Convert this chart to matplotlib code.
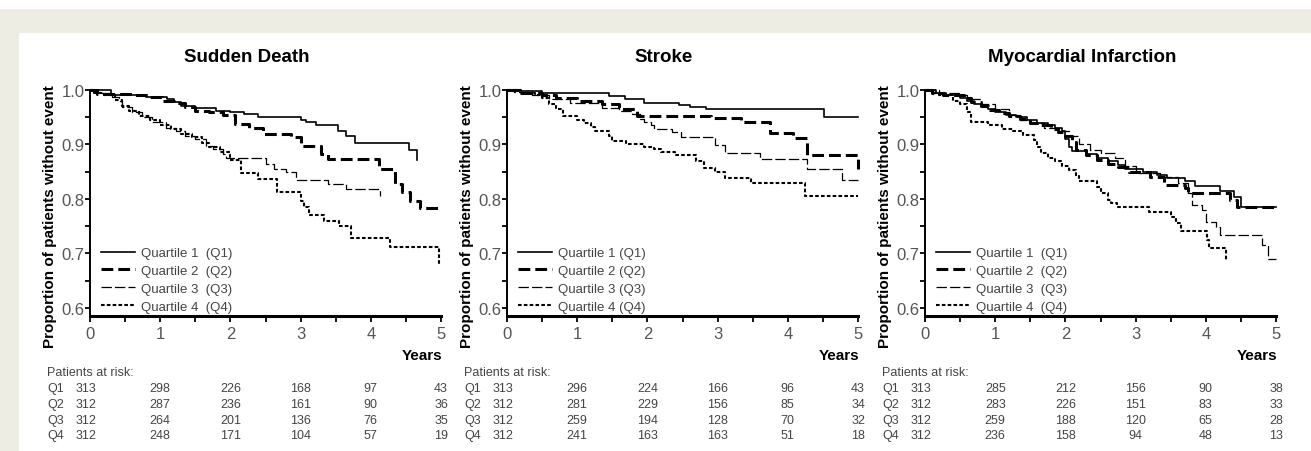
import matplotlib
matplotlib.use("Agg")
import matplotlib.pyplot as plt
from matplotlib.patches import Rectangle
from matplotlib.lines import Line2D
from matplotlib.transforms import blended_transform_factory

plt.rcParams['font.family'] = ['Liberation Sans', 'DejaVu Sans']
plt.rcParams['lines.scale_dashes'] = False

W, H = 1311, 452

# ---- data (step times in years, survival proportion) ----
titles = ["Sudden Death", "Stroke", "Myocardial Infarction"]
quartile_labels = ["Quartile 1  (Q1)", "Quartile 2  (Q2)", "Quartile 3  (Q3)", "Quartile 4  (Q4)"]
quartile_labels_stroke = ["Quartile 1 (Q1)", "Quartile 2 (Q2)", "Quartile 3 (Q3)", "Quartile 4 (Q4)"]
risk_rows = ["Q1", "Q2", "Q3", "Q4"]
risk_times = [0, 1, 2, 3, 4, 5]

# Sudden death
sd_q1_t = [0, 0.3, 0.8, 1.1, 1.2, 1.3, 1.5, 1.8, 2.0, 2.2, 2.4, 3.0, 3.08, 3.22, 3.53, 3.65, 3.77, 4.54, 4.66]
sd_q1_s = [1.0, 0.990, 0.987, 0.983, 0.978, 0.971, 0.967, 0.962, 0.959, 0.956, 0.950, 0.944, 0.941, 0.935, 0.925, 0.916, 0.902, 0.889, 0.872]
sd_q2_t = [0, 0.1, 0.6, 0.85, 1.03, 1.2, 1.35, 1.5, 1.7, 1.9, 2.06, 2.27, 2.46, 2.87, 3.0, 3.29, 3.39, 4.11, 4.34, 4.44, 4.56, 4.70]
sd_q2_s = [1.0, 0.993, 0.990, 0.987, 0.980, 0.977, 0.968, 0.962, 0.959, 0.955, 0.938, 0.931, 0.920, 0.913, 0.898, 0.883, 0.873, 0.855, 0.828, 0.813, 0.797, 0.783]
sd_q3_t = [0, 0.1, 0.31, 0.41, 0.45, 0.6, 0.74, 0.89, 1.08, 1.22, 1.36, 1.5, 1.65, 1.75, 1.89, 1.94, 2.5, 2.62, 2.79, 2.93, 3.39, 3.65, 4.13]
sd_q3_s = [1.0, 0.995, 0.987, 0.980, 0.968, 0.959, 0.950, 0.941, 0.931, 0.925, 0.916, 0.910, 0.898, 0.892, 0.883, 0.875, 0.864, 0.855, 0.849, 0.834, 0.828, 0.818, 0.806]
sd_q4_t = [0, 0.05, 0.2, 0.35, 0.45, 0.55, 0.7, 0.85, 1.0, 1.15, 1.3, 1.45, 1.6, 1.7, 1.85, 2.0, 2.15, 2.4, 2.67, 3.0, 3.05, 3.12, 3.34, 3.55, 3.72, 4.27, 4.97]
sd_q4_s = [1.0, 0.995, 0.99, 0.982, 0.97, 0.962, 0.953, 0.944, 0.936, 0.928, 0.92, 0.913, 0.903, 0.895, 0.886, 0.872, 0.848, 0.836, 0.812, 0.797, 0.785, 0.770, 0.760, 0.751, 0.728, 0.711, 0.678]
sd_end = [4.66, 5.0, 4.13, 4.97]

# Stroke
st_q1_t = [0, 0.15, 0.5, 1.45, 1.68, 1.95, 2.45, 2.6, 2.83, 4.51]
st_q1_s = [1.0, 0.998, 0.995, 0.989, 0.983, 0.977, 0.972, 0.968, 0.965, 0.950]
st_q2_t = [0, 0.2, 0.5, 0.7, 1.0, 1.35, 1.6, 1.85, 2.9, 3.33, 3.75, 4.07, 4.27, 5.0]
st_q2_s = [1.0, 0.995, 0.99, 0.985, 0.98, 0.974, 0.965, 0.953, 0.948, 0.941, 0.921, 0.912, 0.881, 0.855]
st_q3_t = [0, 0.1, 0.35, 0.6, 0.9, 1.35, 1.6, 1.78, 1.89, 1.95, 2.05, 2.1, 2.35, 2.48, 2.96, 3.1, 3.6, 4.27, 4.77]
st_q3_s = [1.0, 0.996, 0.99, 0.983, 0.977, 0.967, 0.962, 0.956, 0.947, 0.941, 0.935, 0.929, 0.923, 0.914, 0.899, 0.884, 0.873, 0.855, 0.834]
st_q4_t = [0, 0.2, 0.4, 0.5, 0.6, 0.7, 0.8, 1.0, 1.1, 1.2, 1.25, 1.45, 1.5, 1.7, 1.95, 2.1, 2.2, 2.4, 2.69, 2.8, 2.96, 3.1, 3.48, 4.24]
st_q4_s = [1.0, 0.995, 0.99, 0.985, 0.975, 0.965, 0.953, 0.944, 0.94, 0.932, 0.925, 0.915, 0.906, 0.9, 0.896, 0.891, 0.887, 0.881, 0.869, 0.857, 0.849, 0.839, 0.830, 0.806]
st_end = [5.0, 5.0, 5.0, 5.0]

# Myocardial infarction
mi_q1_t = [0, 0.15, 0.3, 0.5, 0.6, 0.7, 0.8, 0.9, 1.0, 1.15, 1.3, 1.45, 1.6, 1.75, 1.85, 1.95, 2.0, 2.05, 2.1, 2.3, 2.45, 2.6, 2.75, 2.85, 3.1, 3.3, 3.45, 3.7, 3.85, 4.2, 4.4, 4.5]
mi_q1_s = [1.0, 0.995, 0.99, 0.985, 0.98, 0.975, 0.97, 0.965, 0.96, 0.955, 0.95, 0.945, 0.94, 0.935, 0.93, 0.925, 0.91, 0.895, 0.888, 0.882, 0.875, 0.87, 0.862, 0.855, 0.85, 0.843, 0.838, 0.832, 0.824, 0.815, 0.803, 0.786]
mi_q2_t = [0, 0.1, 0.25, 0.55, 0.65, 0.8, 0.9, 1.05, 1.2, 1.35, 1.5, 1.65, 1.8, 1.9, 2.0, 2.1, 2.15, 2.3, 2.45, 2.6, 2.75, 2.9, 3.2, 3.4, 3.7, 3.75, 4.35, 4.45]
mi_q2_s = [1.0, 0.995, 0.99, 0.985, 0.978, 0.97, 0.963, 0.958, 0.952, 0.947, 0.94, 0.935, 0.928, 0.922, 0.915, 0.905, 0.89, 0.88, 0.872, 0.865, 0.858, 0.85, 0.84, 0.826, 0.82, 0.81, 0.798, 0.786]
mi_q3_t = [0, 0.2, 0.5, 0.6, 0.8, 1.0, 1.2, 1.35, 1.5, 1.7, 1.9, 2.05, 2.2, 2.35, 2.5, 2.7, 2.85, 3.0, 3.35, 3.6, 3.75, 3.8, 3.95, 4.0, 4.15, 4.2, 4.8, 4.88]
mi_q3_s = [1.0, 0.995, 0.99, 0.983, 0.975, 0.965, 0.955, 0.945, 0.94, 0.93, 0.925, 0.915, 0.9, 0.89, 0.885, 0.875, 0.86, 0.848, 0.84, 0.83, 0.81, 0.789, 0.78, 0.758, 0.749, 0.734, 0.716, 0.689]
mi_q4_t = [0, 0.1, 0.2, 0.4, 0.5, 0.6, 0.65, 0.9, 1.1, 1.25, 1.4, 1.55, 1.6, 1.65, 1.75, 1.85, 1.95, 2.05, 2.15, 2.2, 2.45, 2.5, 2.6, 2.65, 2.73, 3.19, 3.5, 3.57, 3.65, 4.02, 4.05, 4.29]
mi_q4_s = [1.0, 0.995, 0.99, 0.98, 0.975, 0.96, 0.942, 0.935, 0.929, 0.925, 0.918, 0.908, 0.896, 0.884, 0.875, 0.869, 0.86, 0.854, 0.842, 0.832, 0.821, 0.81, 0.798, 0.792, 0.785, 0.776, 0.767, 0.755, 0.742, 0.725, 0.710, 0.686]
mi_end = [5.0, 5.0, 5.0, 4.29]

# patients at risk
sd_risk_q1 = [313, 298, 226, 168, 97, 43]
sd_risk_q2 = [312, 287, 236, 161, 90, 36]
sd_risk_q3 = [312, 264, 201, 136, 76, 35]
sd_risk_q4 = [312, 248, 171, 104, 57, 19]
st_risk_q1 = [313, 296, 224, 166, 96, 43]
st_risk_q2 = [312, 281, 229, 156, 85, 34]
st_risk_q3 = [312, 259, 194, 128, 70, 32]
st_risk_q4 = [312, 241, 163, 163, 51, 18]
mi_risk_q1 = [313, 285, 212, 156, 90, 38]
mi_risk_q2 = [312, 283, 226, 151, 83, 33]
mi_risk_q3 = [312, 259, 188, 120, 65, 28]
mi_risk_q4 = [312, 236, 158, 94, 48, 13]

panels = [
    ([(sd_q1_t, sd_q1_s), (sd_q2_t, sd_q2_s), (sd_q3_t, sd_q3_s), (sd_q4_t, sd_q4_s)], sd_end,
     [sd_risk_q1, sd_risk_q2, sd_risk_q3, sd_risk_q4], quartile_labels),
    ([(st_q1_t, st_q1_s), (st_q2_t, st_q2_s), (st_q3_t, st_q3_s), (st_q4_t, st_q4_s)], st_end,
     [st_risk_q1, st_risk_q2, st_risk_q3, st_risk_q4], quartile_labels_stroke),
    ([(mi_q1_t, mi_q1_s), (mi_q2_t, mi_q2_s), (mi_q3_t, mi_q3_s), (mi_q4_t, mi_q4_s)], mi_end,
     [mi_risk_q1, mi_risk_q2, mi_risk_q3, mi_risk_q4], quartile_labels),
]

# line styles per quartile
styles = [
    dict(lw=1.2, linestyle='-'),
    dict(lw=2.2, dashes=(8.5, 3.6)),
    dict(lw=0.9, dashes=(7.5, 2.2)),
    dict(lw=1.5, dashes=(2.6, 1.6)),
]

GRAY = '#555555'

fig = plt.figure(figsize=(W / 100, H / 100), dpi=100)
fig.patch.set_facecolor('white')
# beige page frame (top band and left band)
fig.patches.append(Rectangle((0, 1 - 34 / H), 1, 24 / H, transform=fig.transFigure,
                             facecolor='#EEEDE4', edgecolor='none', zorder=0))
fig.patches.append(Rectangle((0, 0), 19 / W, 1 - 10 / H, transform=fig.transFigure,
                             facecolor='#EEEDE4', edgecolor='none', zorder=0))

ax_left_px = [90, 507, 925]
ax_w_px = 351
ax_top_px, ax_bot_px = 91, 317

for i, (curves, ends, risk, labels) in enumerate(panels):
    L = ax_left_px[i]
    ax = fig.add_axes([L / W, 1 - ax_bot_px / H, ax_w_px / W, (ax_bot_px - ax_top_px) / H])
    ax.set_xlim(0, 5)
    ax.set_ylim(0.585, 1.0)

    handles = []
    for (t, s), end, st in zip(curves, ends, styles):
        ax.step(t + [end], s + [s[-1]], where='post', color='black', clip_on=False, **st)
        handles.append(Line2D([], [], color='black', **st))

    for side in ['top', 'right']:
        ax.spines[side].set_visible(False)
    ax.spines['left'].set_linewidth(1.4)
    ax.spines['bottom'].set_linewidth(2.2)

    ax.set_xticks([0, 1, 2, 3, 4, 5])
    ax.set_xticks([0.5, 1.5, 2.5, 3.5, 4.5], minor=True)
    ax.set_yticks([0.6, 0.7, 0.8, 0.9, 1.0])
    ax.set_yticklabels(['0.6', '0.7', '0.8', '0.9', '1.0'])
    ax.set_yticks([0.65, 0.75, 0.85, 0.95], minor=True)
    ax.tick_params(axis='both', which='both', direction='out', width=1.3, color='black',
                   labelcolor=GRAY, labelsize=12)
    ax.tick_params(axis='x', which='both', length=4.5, pad=2.5)
    ax.tick_params(axis='y', which='both', length=3.5, pad=0.5)

    ax.legend(handles, labels, loc='lower left', bbox_to_anchor=(0.03, 0.015),
              frameon=False, fontsize=9.5, labelcolor='#444444', handlelength=2.6,
              handletextpad=0.45, labelspacing=0.42, borderpad=0, borderaxespad=0)

    # titles and axis labels in figure pixel positions
    fig.text((L + 157) / W, 1 - 57 / H, titles[i], ha='center', va='center',
             fontsize=13.5, fontweight='bold')
    fig.text((L - 40) / W, 1 - 217 / H, "Proportion of patients without event",
             rotation=90, ha='center', va='center', fontsize=11, fontweight='bold')
    fig.text((L + ax_w_px + 1) / W, 1 - 356 / H, "Years", ha='right', va='center',
             fontsize=11, fontweight='bold')

    # patients at risk table
    tr = blended_transform_factory(ax.transData, fig.transFigure)
    x_lab = -43 / 70.2
    ax.text(x_lab, 1 - 373 / H, "Patients at risk:", transform=tr, ha='left', va='center',
            fontsize=9, color='#444444', clip_on=False)
    row_y = [389, 405, 421, 436]
    for r, (name, vals) in enumerate(zip(risk_rows, risk)):
        ax.text(x_lab, 1 - row_y[r] / H, name, transform=tr, ha='left', va='center',
                fontsize=9, color='#444444', clip_on=False)
        for tt, v in zip(risk_times, vals):
            xx = tt - 0.06 if tt == 0 else tt
            ax.text(xx, 1 - row_y[r] / H, str(v), transform=tr, ha='center', va='center',
                    fontsize=9, color='#444444', clip_on=False)

fig.savefig('out.png', dpi=100)
